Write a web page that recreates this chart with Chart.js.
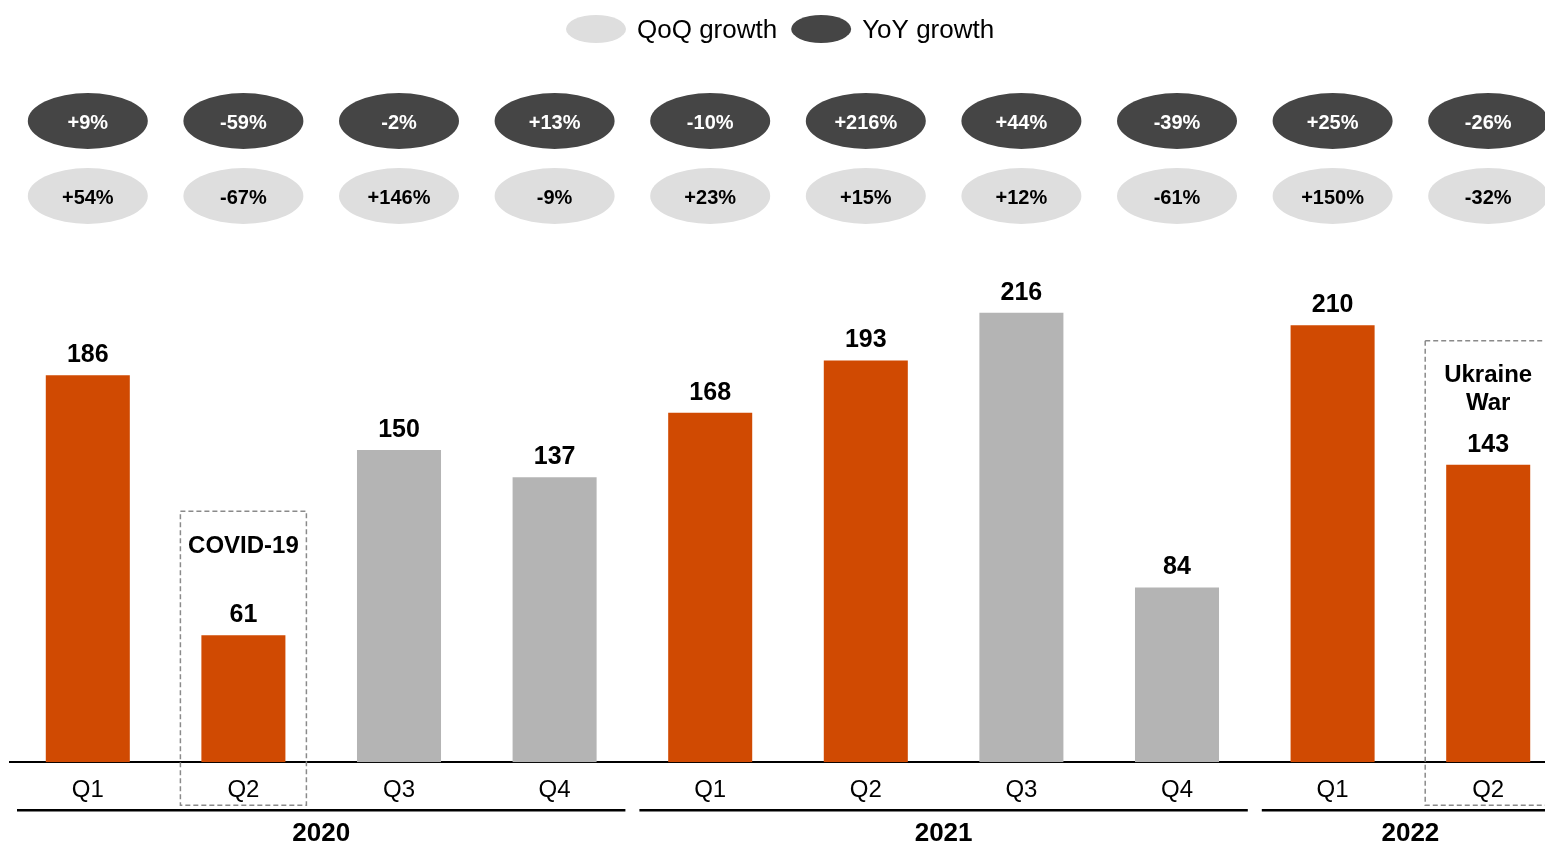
<!DOCTYPE html>
<html>
<head>
<meta charset="utf-8">
<script src="https://cdn.jsdelivr.net/npm/chart.js@4.4.1/dist/chart.umd.min.js"></script>
<style>
  html, body { margin: 0; padding: 0; background: #fff; overflow: hidden; }
  #wrap { width: 1570px; height: 844px; position: relative; }
</style>
</head>
<body>
<div id="wrap"><canvas id="salesChart"></canvas></div>
<script>
// Chart data
const quarters = ['Q1', 'Q2', 'Q3', 'Q4', 'Q1', 'Q2', 'Q3', 'Q4', 'Q1', 'Q2'];
const sales = [186, 61, 150, 137, 168, 193, 216, 84, 210, 143];
const yoyGrowth = ['+9%', '-59%', '-2%', '+13%', '-10%', '+216%', '+44%', '-39%', '+25%', '-26%'];
const qoqGrowth = ['+54%', '-67%', '+146%', '-9%', '+23%', '+15%', '+12%', '-61%', '+150%', '-32%'];
const years = ['2020', '2021', '2022'];
const quartersPerYear = [4, 4, 2];
const events = [
    { index: 1, lines: ['COVID-19'] },
    { index: 9, lines: ['Ukraine', 'War'] }
];

const ORANGE = '#D04A02';
const GREY = '#B4B4B4';
const DARK = '#454545';
const LIGHT = '#DEDEDE';
const FONT = "Arial, 'Liberation Sans', sans-serif";

// Q1/Q2 orange, Q3/Q4 grey
const barColors = quarters.map(q => (q === 'Q1' || q === 'Q2') ? ORANGE : GREY);

function ellipse(ctx, cx, cy, rx, ry, fill) {
    ctx.beginPath();
    ctx.ellipse(cx, cy, rx, ry, 0, 0, Math.PI * 2);
    ctx.fillStyle = fill;
    ctx.fill();
}

// Extra drawing: value labels, growth bubbles, event boxes, year bands, legend
const decorations = {
    id: 'decorations',
    afterDatasetsDraw(chart) {
        const ctx = chart.ctx;
        const x = chart.scales.x;
        const area = chart.chartArea;
        const meta = chart.getDatasetMeta(0);
        const step = x.getPixelForValue(1) - x.getPixelForValue(0);
        ctx.save();

        // value labels
        ctx.fillStyle = '#000';
        ctx.font = 'bold 25px ' + FONT;
        ctx.textAlign = 'center';
        ctx.textBaseline = 'middle';
        meta.data.forEach((bar, i) => {
            ctx.fillText(String(sales[i]), bar.x, bar.y - 20);
        });

        // growth bubbles
        ctx.font = 'bold 20px ' + FONT;
        quarters.forEach((q, i) => {
            const cx = x.getPixelForValue(i);
            ellipse(ctx, cx, 121, 60, 28, DARK);
            ctx.fillStyle = '#fff';
            ctx.fillText(yoyGrowth[i], cx, 123);
            ellipse(ctx, cx, 196, 60, 28, LIGHT);
            ctx.fillStyle = '#000';
            ctx.fillText(qoqGrowth[i], cx, 198);
        });

        // event boxes
        events.forEach(ev => {
            const bar = meta.data[ev.index];
            const top = bar.y - 124;
            const bottom = area.bottom + 43;
            ctx.setLineDash([5, 3]);
            ctx.strokeStyle = '#8a8a8a';
            ctx.lineWidth = 1.5;
            ctx.strokeRect(bar.x - 63, top, 126, bottom - top);
            ctx.setLineDash([]);
            ctx.fillStyle = '#000';
            ctx.font = 'bold 24px ' + FONT;
            ev.lines.forEach((line, k) => {
                ctx.fillText(line, bar.x, bar.y - 89 + k * 28);
            });
        });

        // year bands
        let start = 0;
        years.forEach((year, j) => {
            const n = quartersPerYear[j];
            const left = x.getPixelForValue(start) - step / 2 + 7;
            const right = x.getPixelForValue(start + n - 1) + step / 2 - 7;
            ctx.strokeStyle = '#000';
            ctx.lineWidth = 2.5;
            ctx.beginPath();
            ctx.moveTo(left, area.bottom + 48);
            ctx.lineTo(right, area.bottom + 48);
            ctx.stroke();
            ctx.fillStyle = '#000';
            ctx.font = 'bold 26px ' + FONT;
            ctx.fillText(year, (left + right) / 2, area.bottom + 72);
            start += n;
        });

        // legend
        ctx.font = '26px ' + FONT;
        ctx.textAlign = 'left';
        let lx = 566;
        [['QoQ growth', LIGHT], ['YoY growth', DARK]].forEach(([label, color]) => {
            ellipse(ctx, lx + 30, 29, 30, 14, color);
            ctx.fillStyle = '#000';
            ctx.fillText(label, lx + 71, 31);
            lx += 71 + ctx.measureText(label).width + 14;
        });

        ctx.restore();
    }
};

const salesCtx = document.getElementById('salesChart').getContext('2d');

let salesChart = new Chart(salesCtx, {
    type: 'bar',
    data: {
        labels: quarters,
        datasets: [{
            data: sales,
            backgroundColor: barColors,
            borderWidth: 0,
            barPercentage: 0.54,
            categoryPercentage: 1
        }]
    },
    options: {
        responsive: true,
        maintainAspectRatio: false,
        animation: false,
        layout: {
            padding: { top: 242, left: 10, right: 4, bottom: 25 }
        },
        plugins: {
            legend: { display: false },
            tooltip: { enabled: false }
        },
        scales: {
            x: {
                grid: { display: false, drawTicks: false },
                border: { display: true, color: '#000', width: 2 },
                ticks: {
                    color: '#000',
                    padding: 14,
                    font: { family: FONT, size: 24 }
                }
            },
            y: {
                display: false,
                min: 0,
                max: 250
            }
        }
    },
    plugins: [decorations]
});
</script>
</body>
</html>
